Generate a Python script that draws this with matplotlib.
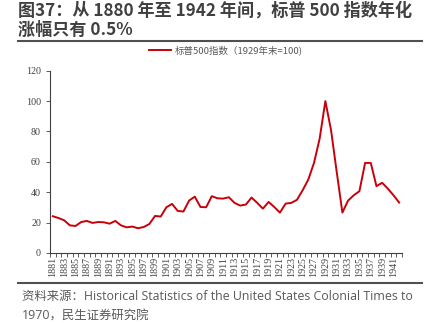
import matplotlib
matplotlib.use("Agg")
import matplotlib.pyplot as plt
from matplotlib.lines import Line2D

plt.rcParams['font.family'] = ['Noto Sans CJK SC', 'DejaVu Sans']

years = list(range(1881, 1943))
sp500 = [24.2, 23.0, 21.5, 18.2, 17.8, 20.4, 21.1, 19.8, 20.4, 20.2,
         19.3, 21.1, 18.2, 16.9, 17.4, 16.3, 17.1, 19.1, 24.4, 24.0,
         30.1, 32.3, 27.7, 27.3, 34.5, 37.1, 30.3, 30.1, 37.4, 36.0,
         35.8, 36.7, 33.0, 31.2, 31.9, 36.5, 33.0, 29.2, 33.6, 30.3,
         26.6, 32.5, 33.0, 35.0, 41.3, 48.4, 59.3, 75.4, 100.0, 80.9,
         53.4, 26.6, 34.5, 38.0, 40.7, 59.3, 59.3, 44.0, 46.2, 42.4,
         38.0, 33.2]
yticks = [0, 20, 40, 60, 80, 100, 120]

title = "图37：从 1880 年至 1942 年间，标普 500 指数年化\n涨幅只有 0.5%"
source = "资料来源：Historical Statistics of the United States Colonial Times to\n1970，民生证券研究院"
legend_label = "标普500指数（1929年末=100)"

red = "#C8000A"
axis_col = "#404040"

fig = plt.figure(figsize=(4.31, 3.23), dpi=100)

# header and footer
fig.text(0.042, 0.995, title, ha='left', va='top', fontsize=12.3,
         fontweight='bold', color='#404040', linespacing=1.12)
fig.add_artist(Line2D([0.042, 0.98], [0.872, 0.872], color='#505050', lw=1.5))
fig.add_artist(Line2D([0.042, 0.98], [0.124, 0.124], color='#505050', lw=1.5))
fig.text(0.051, 0.103, source, ha='left', va='top', fontsize=8.9,
         color='#595959', linespacing=1.55,
         family=['Open Sans', 'Noto Sans CJK SC'])

ax = fig.add_axes([50 / 431, 1 - 253 / 323, (402 - 50) / 431, (253 - 70.7) / 323])
x = list(range(len(years)))
ax.plot(x, sp500, color=red, lw=1.4, label=legend_label)

ax.set_ylim(0, 120)
ax.set_yticks(yticks)
ax.set_xlim(-0.5, len(years) - 0.5)
ax.set_xticks(x[::2])
ax.set_xticklabels([str(y) for y in years[::2]], rotation=90)
ax.set_xticks([i - 0.5 for i in range(len(years) + 1)], minor=True)
ax.tick_params(axis='x', which='major', length=0, pad=3)
ax.tick_params(axis='x', which='minor', length=3, color=axis_col, width=0.6)
ax.tick_params(axis='y', length=3, color=axis_col, width=0.6)
for lab in ax.get_xticklabels() + ax.get_yticklabels():
    lab.set_fontfamily('Liberation Serif')
    lab.set_fontsize(7.2)
    lab.set_color('#404040')

for side in ['top', 'right']:
    ax.spines[side].set_visible(False)
for side in ['left', 'bottom']:
    ax.spines[side].set_color(axis_col)
    ax.spines[side].set_linewidth(0.8)

leg = ax.legend(loc='lower center', bbox_to_anchor=(0.5, 1.04), frameon=False,
                fontsize=6.8, handlelength=2.3, handletextpad=0.4)
for t in leg.get_texts():
    t.set_color('#595959')

fig.savefig("out.png", dpi=100)
